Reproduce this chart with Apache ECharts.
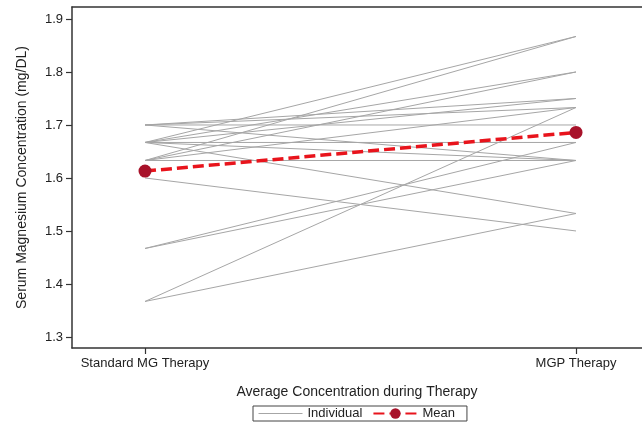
<!DOCTYPE html>
<html>
<head>
<meta charset="utf-8">
<script src="https://cdn.jsdelivr.net/npm/echarts@6/dist/echarts.min.js"></script>
<style>html,body{margin:0;padding:0;background:#fff}#c{width:642px;height:427px}</style>
</head>
<body>
<div id="c"></div>
<script>
var categories = ['Standard MG Therapy', 'MGP Therapy'];
var yTicks = [1.3, 1.4, 1.5, 1.6, 1.7, 1.8, 1.9];
// Individual patients: [standard, MGP]
var standardValues = [1.600, 1.667, 1.467, 1.467, 1.367, 1.367, 1.633, 1.667, 1.667, 1.633, 1.700, 1.667, 1.700, 1.633, 1.700, 1.667, 1.700, 1.667, 1.633];
var mgpValues      = [1.500, 1.533, 1.633, 1.667, 1.733, 1.533, 1.867, 1.867, 1.800, 1.800, 1.750, 1.750, 1.733, 1.733, 1.700, 1.667, 1.633, 1.633, 1.633];
var meanValues = [1.613, 1.686];

var FONT = 'Liberation Sans';
var series = [];
for (var i = 0; i < standardValues.length; i++) {
  series.push({
    name: 'Individual', type: 'line', symbol: 'none', silent: true,
    lineStyle: { color: '#a6a6a6', width: 1 },
    itemStyle: { color: '#a6a6a6' },
    data: [[0, standardValues[i]], [1, mgpValues[i]]],
    z: 2
  });
}
series.push({
  name: 'Mean', type: 'line', symbol: 'circle', symbolSize: 13,
  lineStyle: { color: '#e8141c', width: 3.5, type: [11, 5] },
  itemStyle: { color: '#a8122a' },
  data: meanValues.map(function (v, k) { return [k, v]; }),
  z: 5
});

var chart = echarts.init(document.getElementById('c'), null, { renderer: 'canvas' });
chart.setOption({
  animation: false,
  backgroundColor: '#fff',
  textStyle: { fontFamily: FONT },
  grid: { left: 72, top: 7, right: 0, bottom: 79 },
  legend: {
    data: [
      { name: 'Individual', itemStyle: { opacity: 0 }, lineStyle: { width: 1, color: '#a6a6a6' } },
      { name: 'Mean' }
    ],
    left: 253, top: 406,
    padding: [1, 12, 1, 5],
    borderColor: '#444', borderWidth: 1, borderRadius: 0,
    itemWidth: 44, itemHeight: 13, itemGap: 10,
    textStyle: { fontFamily: FONT, fontSize: 13, color: '#222' }
  },
  xAxis: [{
    type: 'value', min: -0.1694, max: 1.1531,
    name: 'Average Concentration during Therapy',
    nameLocation: 'middle', nameGap: 37,
    nameTextStyle: { fontFamily: FONT, fontSize: 14, color: '#222' },
    axisLine: { show: true, onZero: false, lineStyle: { color: '#333', width: 1.5 } },
    axisTick: { show: true, length: 6, customValues: [0, 1], lineStyle: { color: '#333', width: 1.2 } },
    axisLabel: { customValues: [0, 1], margin: 9, fontFamily: FONT, fontSize: 13, color: '#222',
      formatter: function (v) { return categories[Math.round(v)]; } },
    splitLine: { show: false }
  }, {
    type: 'value', position: 'top', min: -0.1694, max: 1.1531,
    axisLine: { show: true, onZero: false, lineStyle: { color: '#333', width: 1.5 } },
    axisTick: { show: false }, axisLabel: { show: false }, splitLine: { show: false }
  }],
  yAxis: {
    type: 'value', min: 1.2792, max: 1.9226,
    name: 'Serum Magnesium Concentration (mg/DL)',
    nameLocation: 'middle', nameGap: 43,
    nameTextStyle: { fontFamily: FONT, fontSize: 14, color: '#222' },
    axisLine: { show: true, onZero: false, lineStyle: { color: '#333', width: 1.5 } },
    axisTick: { show: true, length: 6, customValues: yTicks, lineStyle: { color: '#333', width: 1.2 } },
    axisLabel: { customValues: yTicks, margin: 9, fontFamily: FONT, fontSize: 13, color: '#222',
      formatter: function (v) { return v.toFixed(1); } },
    splitLine: { show: false }
  },
  series: series
});
</script>
</body>
</html>
